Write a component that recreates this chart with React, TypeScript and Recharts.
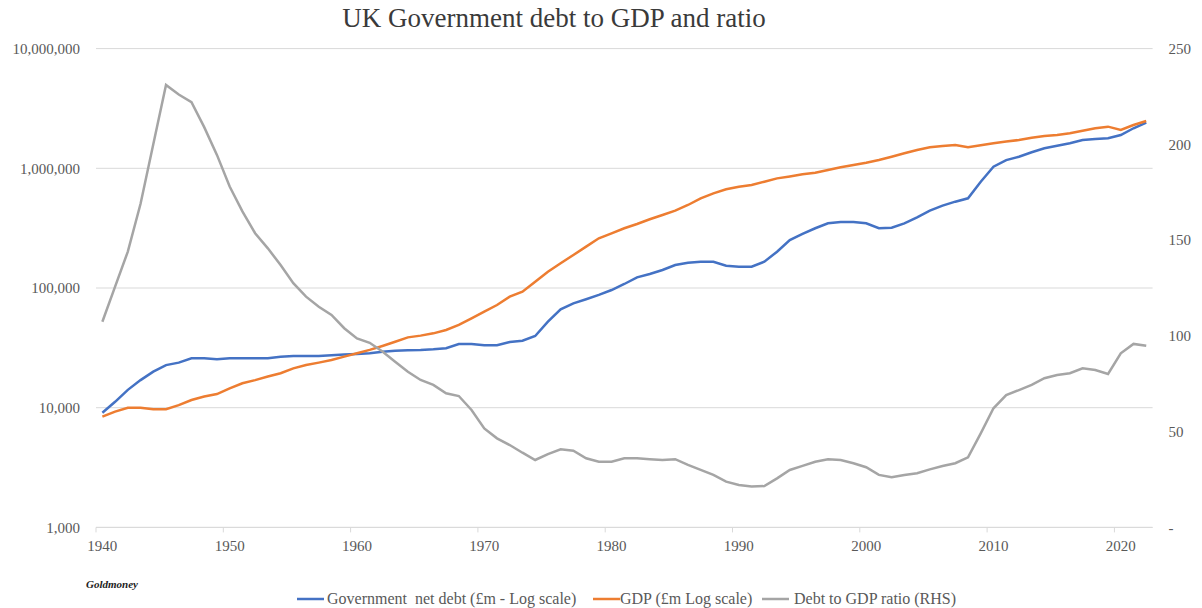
import { CartesianGrid, Line, LineChart, XAxis, YAxis } from "recharts"

const years = [
  1940, 1941, 1942, 1943, 1944, 1945, 1946, 1947, 1948, 1949,
  1950, 1951, 1952, 1953, 1954, 1955, 1956, 1957, 1958, 1959,
  1960, 1961, 1962, 1963, 1964, 1965, 1966, 1967, 1968, 1969,
  1970, 1971, 1972, 1973, 1974, 1975, 1976, 1977, 1978, 1979,
  1980, 1981, 1982, 1983, 1984, 1985, 1986, 1987, 1988, 1989,
  1990, 1991, 1992, 1993, 1994, 1995, 1996, 1997, 1998, 1999,
  2000, 2001, 2002, 2003, 2004, 2005, 2006, 2007, 2008, 2009,
  2010, 2011, 2012, 2013, 2014, 2015, 2016, 2017, 2018, 2019,
  2020, 2021, 2022,
]

// £m
const netDebt = [
  9080, 11200, 14100, 17000, 20000, 22700, 23800, 25900, 25900, 25400,
  25900, 25900, 25900, 25900, 26700, 27000, 27000, 27000, 27400, 27800,
  28100, 28500, 29400, 29900, 30200, 30400, 30800, 31400, 34000, 34100,
  33200, 33200, 35400, 36300, 39700, 52300, 66400, 74500, 80500, 87500,
  96200, 108000, 122800, 130900, 141300, 155600, 162700, 165900, 165900, 153600,
  150600, 150600, 165900, 201000, 251600, 283000, 315500, 347000, 355800, 355800,
  347000, 315500, 319000, 347000, 389800, 442900, 487600, 526300, 561400, 772600,
  1031000, 1172000, 1250000, 1361000, 1469000, 1545000, 1617000, 1723000, 1758000, 1782000,
  1898000, 2160000, 2404000,
]

// £m
const gdp = [
  8410, 9270, 10000, 10000, 9700, 9700, 10500, 11600, 12400, 13000,
  14500, 16000, 17000, 18200, 19400, 21300, 22700, 23800, 25000, 26700,
  28500, 30400, 32800, 35600, 38700, 40000, 41800, 44600, 49100, 55800,
  63500, 72100, 84600, 93100, 112900, 136900, 160800, 188700, 221500, 260200,
  286400, 315500, 342700, 375000, 407400, 442600, 493700, 561300, 618000, 667700,
  702000, 725000, 772600, 824000, 855000, 890000, 919000, 967000, 1019000, 1066000,
  1114000, 1173000, 1250000, 1334000, 1422000, 1497000, 1535000, 1566000, 1500000, 1560000,
  1618000, 1671000, 1723000, 1803000, 1862000, 1898000, 1960000, 2061000, 2160000, 2228000,
  2089000, 2301000, 2484000,
]

// %
const debtRatio = [
  107.4, 125.7, 144, 169, 200, 231, 226, 222, 209, 194.5,
  178, 165, 153.6, 145.7, 137, 127.5, 120.5, 115.2, 110.9, 104,
  98.7, 96.4, 91.8, 86.5, 81.3, 77, 74.4, 70, 68.6, 61.3,
  51.7, 46.5, 43, 39, 35.2, 38.3, 40.8, 40, 36.1, 34.3,
  34.3, 36.1, 36.1, 35.6, 35.2, 35.6, 32.6, 30, 27.4, 23.9,
  22.1, 21.3, 21.6, 25.6, 30, 32.1, 34.3, 35.6, 35.2, 33.5,
  31.4, 27.4, 26.2, 27.4, 28.3, 30.3, 32.1, 33.5, 36.6, 49.1,
  62.2, 69.1, 71.7, 74.4, 77.9, 79.6, 80.5, 83.1, 82.2, 80.1,
  90.9, 95.8, 94.9,
]

const yearTicks = [1940, 1950, 1960, 1970, 1980, 1990, 2000, 2010, 2020]
const leftTicks = [1000, 10000, 100000, 1000000, 10000000]
const rightTicks = [0, 50, 100, 150, 200, 250]

const data = years.map((year, i) => ({
  year,
  netDebt: netDebt[i],
  gdp: gdp[i],
  debtRatio: debtRatio[i],
}))

// chart pinned to the page's top-left corner, so no body margin and no scrollbars
const W = 1202
const H = 608
const LEFT_W = 96
const RIGHT_W = 49.4
const PLOT_W = W - LEFT_W - RIGHT_W
const BAND = PLOT_W / years.length
const FONT = '"Liberation Serif", "Times New Roman", serif'
const TEXT = "#595959"
const GRID = "#d9d9d9"

const XTick = (props: any) => {
  const { x, y, payload } = props
  const edge = x - BAND / 2
  return (
    <g>
      <line x1={edge} x2={edge} y1={y - 13} y2={y - 8} stroke={GRID} />
      <text x={x} y={y} dy="0.71em" textAnchor="middle" fill={TEXT} fontSize={15} fontFamily={FONT}>
        {payload.value}
      </text>
    </g>
  )
}

const legend = [
  { label: "Government  net debt (£m - Log scale)", color: "#4472C4", x: 297, gap: 3 },
  { label: "GDP (£m Log scale)", color: "#ED7D31", x: 593, gap: 0 },
  { label: "Debt to GDP ratio (RHS)", color: "#A5A5A5", x: 762, gap: 5 },
]

export default function App() {
  return (
    <div style={{ position: "fixed", left: 0, top: 0, width: W, height: H, fontFamily: FONT, background: "#fff" }}>
      <LineChart width={W} height={H} data={data} margin={{ top: 48.6, right: 0, bottom: 50.6, left: 0 }}>
        <CartesianGrid yAxisId="left" vertical={false} stroke={GRID} />
        <XAxis
          dataKey="year"
          type="number"
          domain={[1939.5, 2022.5]}
          ticks={yearTicks}
          allowDataOverflow
          height={30}
          stroke={GRID}
          tickLine={false}
          tickSize={0}
          tickMargin={13}
          tick={(p: any) => <XTick {...p} />}
        />
        <YAxis
          yAxisId="left"
          type="number"
          scale="log"
          domain={[1000, 10000000]}
          ticks={leftTicks}
          allowDataOverflow
          width={LEFT_W}
          axisLine={false}
          tickLine={false}
          tickSize={0}
          tickMargin={16}
          tick={{ fill: TEXT, fontSize: 15, fontFamily: FONT }}
          tickFormatter={(v: number) => v.toLocaleString("en-US")}
        />
        <YAxis
          yAxisId="right"
          orientation="right"
          type="number"
          domain={[0, 250]}
          ticks={rightTicks}
          width={RIGHT_W}
          axisLine={false}
          tickLine={false}
          tickSize={0}
          tickMargin={16}
          tick={{ fill: TEXT, fontSize: 15, fontFamily: FONT, textAnchor: "start" }}
          tickFormatter={(v: number) => (v === 0 ? "-" : `${v}`)}
        />
        <Line yAxisId="left" type="linear" dataKey="netDebt" stroke="#4472C4" strokeWidth={2.5} dot={false} isAnimationActive={false} />
        <Line yAxisId="left" type="linear" dataKey="gdp" stroke="#ED7D31" strokeWidth={2.5} dot={false} isAnimationActive={false} />
        <Line yAxisId="right" type="linear" dataKey="debtRatio" stroke="#A5A5A5" strokeWidth={2.5} dot={false} isAnimationActive={false} />
      </LineChart>
      <svg width={W} height={H} style={{ position: "absolute", left: 0, top: 0, pointerEvents: "none", overflow: "visible" }}>
        <text x={554} y={27} textAnchor="middle" fontSize={27} fill="#3a3a3a" fontFamily={FONT}>
          UK Government debt to GDP and ratio
        </text>
        <text x={86} y={588} fontSize={11} fontStyle="italic" fontWeight={600} fill="#222" fontFamily={FONT}>
          Goldmoney
        </text>
        {legend.map((item) => (
          <g key={item.label}>
            <line x1={item.x} x2={item.x + 27} y1={599} y2={599} stroke={item.color} strokeWidth={2.5} />
            <text x={item.x + 27 + item.gap} y={604} fontSize={16} fill={TEXT} fontFamily={FONT} style={{ whiteSpace: "pre" }}>
              {item.label}
            </text>
          </g>
        ))}
      </svg>
    </div>
  )
}
